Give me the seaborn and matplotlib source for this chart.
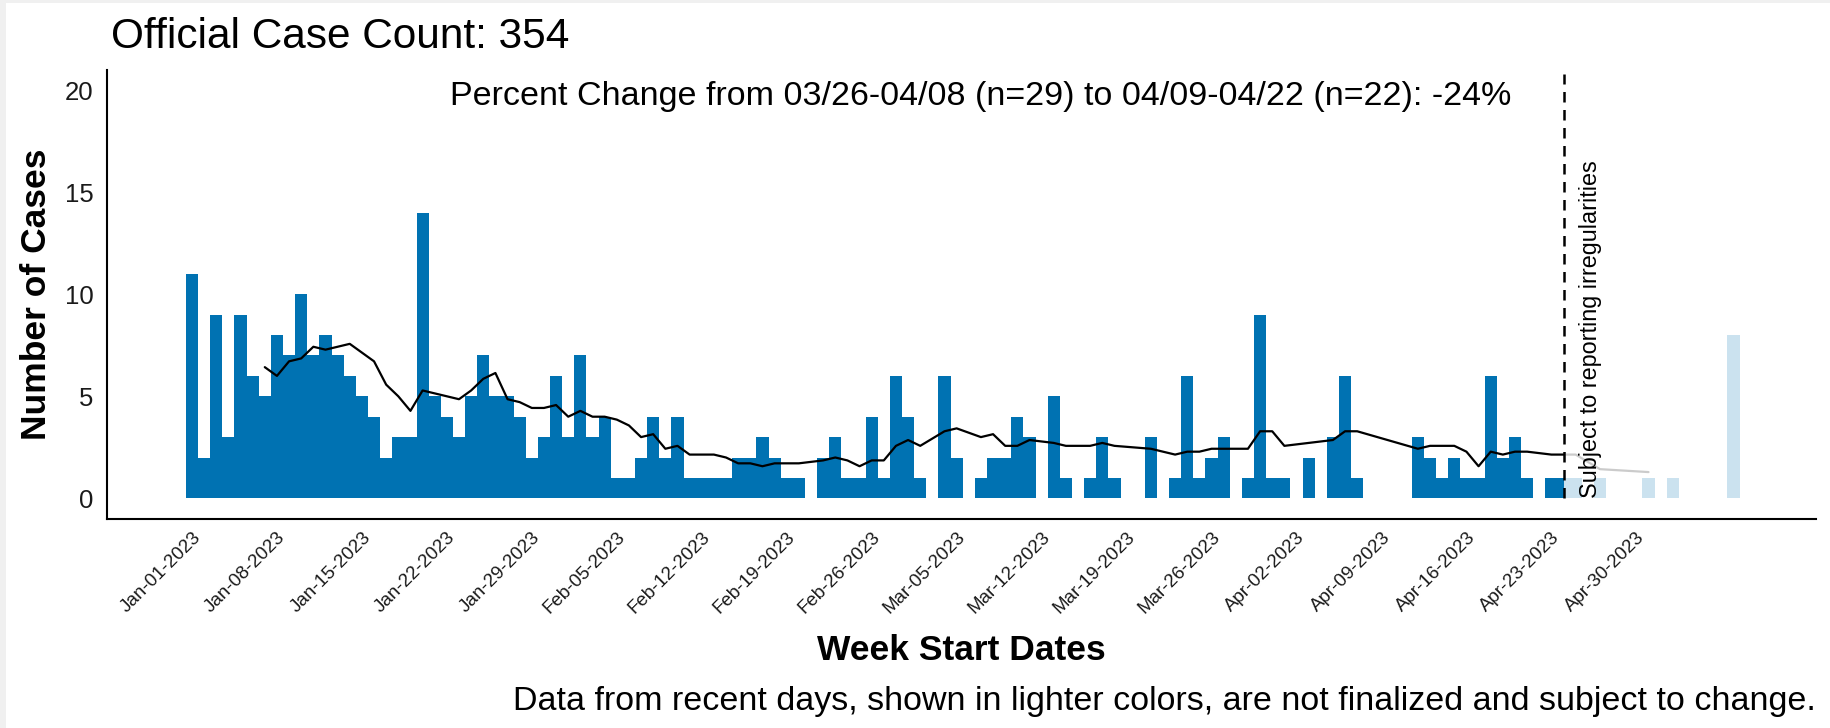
import numpy as np
import pandas as pd
import matplotlib
matplotlib.use("Agg")
import matplotlib.pyplot as plt
import seaborn as sns
from matplotlib.patches import Rectangle
from matplotlib.transforms import ScaledTranslation

# ---------------- data ----------------
start_date = "2023-01-01"
daily_cases = [
    11, 2, 9, 3, 9, 6, 5, 8, 7, 10,      # Jan 01 - Jan 10
    7, 8, 7, 6, 5, 4, 2, 3, 3, 14,       # Jan 11 - Jan 20
    5, 4, 3, 5, 7, 5, 5, 4, 2, 3,        # Jan 21 - Jan 30
    6, 3, 7, 3, 4, 1, 1, 2, 4, 2,        # Jan 31 - Feb 09
    4, 1, 1, 1, 1, 2, 2, 3, 2, 1,        # Feb 10 - Feb 19
    1, 0, 2, 3, 1, 1, 4, 1, 6, 4,        # Feb 20 - Mar 01
    1, 0, 6, 2, 0, 1, 2, 2, 4, 3,        # Mar 02 - Mar 11
    0, 5, 1, 0, 1, 3, 1, 0, 0, 3,        # Mar 12 - Mar 21
    0, 1, 6, 1, 2, 3, 0, 1, 9, 1,        # Mar 22 - Mar 31
    1, 0, 2, 0, 3, 6, 1, 0, 0, 0,        # Apr 01 - Apr 10
    0, 3, 2, 1, 2, 1, 1, 6, 2, 3,        # Apr 11 - Apr 20
    1, 0, 1, 1, 1, 0, 1, 0, 0, 0,        # Apr 21 - Apr 30
    1, 0, 1, 0, 0, 0, 0, 8,              # May 01 - May 08
]
tick_labels = [
    "Jan-01-2023", "Jan-08-2023", "Jan-15-2023", "Jan-22-2023", "Jan-29-2023",
    "Feb-05-2023", "Feb-12-2023", "Feb-19-2023", "Feb-26-2023", "Mar-05-2023",
    "Mar-12-2023", "Mar-19-2023", "Mar-26-2023", "Apr-02-2023", "Apr-09-2023",
    "Apr-16-2023", "Apr-23-2023", "Apr-30-2023",
]
y_ticks = [0, 5, 10, 15, 20]
cutoff_date = "2023-04-24"      # start of the "not finalized" period
avg_end_date = "2023-05-01"     # last day drawn for the 7-report average
avg_window = 7

title_text = "Official Case Count: 354"
change_text = "Percent Change from 03/26-04/08 (n=29) to 04/09-04/22 (n=22): -24%"
irregular_text = "Subject to reporting irregularities"
caption_text = ("Data from recent days, shown in lighter colors, "
                "are not finalized and subject to change.")
x_label = "Week Start Dates"
y_label = "Number of Cases"

bar_color = "#0072B2"

# ---------------- derived tables ----------------
dates = pd.date_range(start_date, periods=len(daily_cases), freq="D")
t0 = dates[0]
df = pd.DataFrame({"date": dates,
                   "day": (dates - t0).days.astype(float),
                   "cases": daily_cases})
rep = df[df["cases"] > 0].copy()
rep["avg"] = rep["cases"].rolling(avg_window).mean()
avg = rep[rep["date"] <= pd.Timestamp(avg_end_date)].dropna()

tick_days = (pd.to_datetime(tick_labels, format="%b-%d-%Y") - t0).days
cutoff_day = (pd.Timestamp(cutoff_date) - t0).days

# ---------------- style ----------------
sns.set_style("white")
plt.rcParams["font.family"] = ["Liberation Sans", "DejaVu Sans"]

W, H = 1831, 728
fig = plt.figure(figsize=(W / 100, H / 100), dpi=100)
fig.patch.set_facecolor("#f0f0f0")
fig.add_artist(Rectangle((6 / W, 0), 1, 1 - 3 / H, transform=fig.transFigure,
                         facecolor="white", edgecolor="none", zorder=-10))

ax = fig.add_axes([107 / W, 1 - 518.7 / H, (1816 - 107) / W, (518.7 - 69.9) / H])

sns.barplot(data=df, x="day", y="cases", native_scale=True, orient="x",
            width=1.0, color=bar_color, saturation=1, linewidth=0,
            errorbar=None, ax=ax, zorder=1)
sns.lineplot(data=avg, x="day", y="avg", color="black", linewidth=1.6,
             ax=ax, zorder=2)

x_min, x_max = -7.0, 133.8
y_min, y_max = -1, 21
ax.set_xlim(x_min, x_max)
ax.set_ylim(y_min, y_max)

# lighten the not-finalized period
ax.axvspan(cutoff_day, x_max, ymin=(0 - y_min) / (y_max - y_min), ymax=1,
           facecolor="white", alpha=0.8, lw=0, zorder=3)
ax.vlines(cutoff_day, 0, 20.8, colors="black", linestyles=(0, (4.2, 3.0)),
          linewidth=1.8, zorder=4)
ax.text(cutoff_day + 2.2, 0, irregular_text, rotation=90, ha="center",
        va="bottom", fontsize=16.8, color="black", zorder=5)

# axes
ax.set_xticks(tick_days)
ax.set_xticklabels(tick_labels, rotation=45, ha="right", va="top",
                   rotation_mode="anchor", fontsize=13.5, color="#1a1a1a")
shift = ScaledTranslation(4 / 100, 0, fig.dpi_scale_trans)
for lab in ax.get_xticklabels():
    lab.set_transform(lab.get_transform() + shift)
ax.set_yticks(y_ticks)
ax.set_yticklabels([str(v) for v in y_ticks], fontsize=18.5, color="#1a1a1a")
ax.tick_params(axis="both", length=4.3, width=1.1, color="#333333")
ax.tick_params(axis="x", pad=3)
ax.tick_params(axis="y", pad=5.5)
ax.set_xlabel("")
ax.set_ylabel("")
for s in ["top", "right"]:
    ax.spines[s].set_visible(False)
for s in ["left", "bottom"]:
    ax.spines[s].set_color("black")
    ax.spines[s].set_linewidth(1.5)

# texts
fig.text(111 / W, 1 - 48 / H, title_text, ha="left", va="baseline",
         fontsize=30.5, color="black")
fig.text(981 / W, 1 - 96 / H, change_text, ha="center", va="center",
         fontsize=24.5, color="black")
fig.text(961 / W, 1 - 651 / H, x_label, ha="center", va="center",
         fontsize=25.5, fontweight="bold", color="black")
fig.text(37 / W, 1 - 294 / H, y_label, ha="center", va="center", rotation=90,
         fontsize=25.5, fontweight="bold", color="black")
fig.text(1816 / W, 1 - 710 / H, caption_text, ha="right", va="baseline",
         fontsize=24.5, color="black")

fig.savefig("out.png", dpi=100, facecolor=fig.get_facecolor())
